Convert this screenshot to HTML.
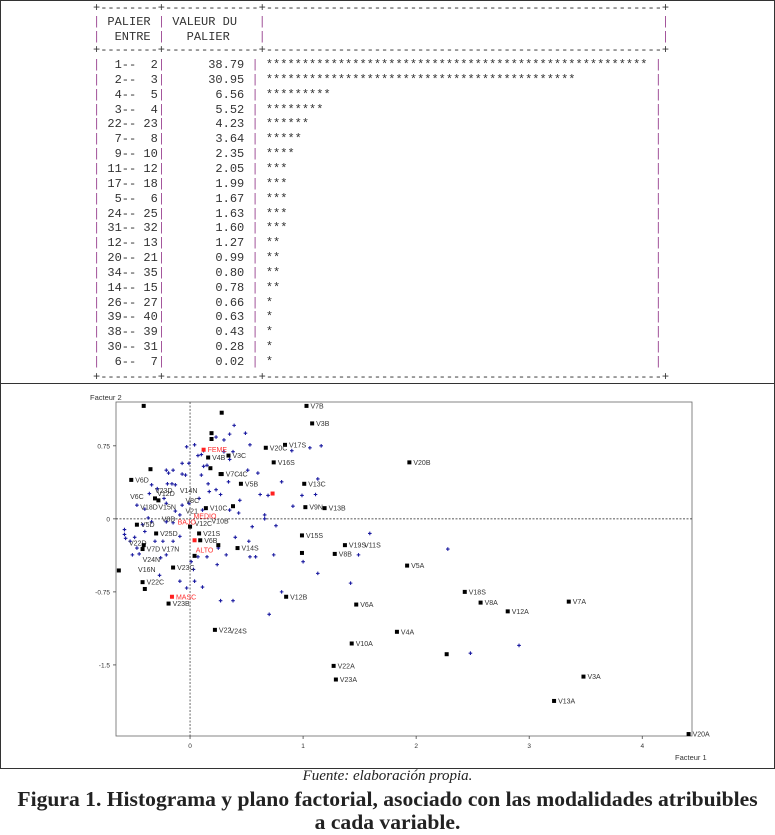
<!DOCTYPE html>
<html><head><meta charset="utf-8">
<style>
html,body{margin:0;padding:0;background:#fff;}
body{width:775px;height:835px;position:relative;overflow:hidden;}
#top{position:absolute;left:0;top:0;width:773px;height:382px;border:1px solid #333;border-bottom:none;}
.ln{position:absolute;left:93px;margin:0;font-family:"Liberation Mono",monospace;font-size:12px;line-height:14px;height:14px;color:#333;white-space:pre;}
.p{color:#a05098;}
#plotbox{position:absolute;left:0;top:383px;width:773px;height:384px;border:1px solid #333;}
svg{position:absolute;left:0;top:0;}
.cap{position:absolute;left:0;width:775px;text-align:center;font-family:"Liberation Serif",serif;color:#222;}
</style></head>
<body>
<div id="top"></div>
<div id="hist"></div>
<div id="plotbox"></div>
<svg id="plot" width="775" height="835"></svg>
<div class="cap" style="top:768px;font-style:italic;font-size:15px;">Fuente: elaboración propia.</div>
<div class="cap" style="top:788px;font-weight:bold;font-size:21.6px;line-height:23px;white-space:nowrap;">Figura 1. Histograma y plano factorial, asociado con las modalidades atribuibles<br>a cada variable.</div>
<script>
const palierA=[1,2,4,3,22,7,9,11,17,5,24,31,12,20,34,14,26,39,38,30,6];
const palierB=[2,3,5,4,23,8,10,12,18,6,25,32,13,21,35,15,27,40,39,31,7];
const valeurs=[38.79,30.95,6.56,5.52,4.23,3.64,2.35,2.05,1.99,1.67,1.63,1.60,1.27,0.99,0.80,0.78,0.66,0.63,0.43,0.28,0.02];
const stars=[53,43,9,8,6,5,4,3,3,3,3,3,2,2,2,2,1,1,1,1,1];

function pad(s,n){s=String(s);while(s.length<n)s=' '+s;return s;}
function rep(c,n){return c.repeat(n);}
const P='<span class="p">|</span>';
let lines=[],ys=[];
const sep='+'+rep('-',8)+'+'+rep('-',13)+'+'+rep('-',55)+'+';
lines.push(sep);ys.push(8);
lines.push(P+' PALIER '+P+' VALEUR DU   '+P+rep(' ',55)+P);ys.push(22);
lines.push(P+'  ENTRE '+P+'   PALIER    '+P+rep(' ',55)+P);ys.push(37);
lines.push(sep);ys.push(50);
for(let i=0;i<valeurs.length;i++){
  let row=P+pad(palierA[i],3)+'--'+pad(palierB[i],3)+P+pad(valeurs[i].toFixed(2),11)+' '+P+' '+rep('*',stars[i]);
  let len=24+stars[i];
  row+=rep(' ',Math.max(0,78-len))+P;
  lines.push(row);ys.push(65+i*14.85);
}
lines.push(sep);ys.push(377);
const hist=document.getElementById('hist');
lines.forEach(function(l,i){
  const d=document.createElement('div');
  d.className='ln';
  d.style.top=(ys[i]-7)+'px';
  d.innerHTML=l;
  
  
  hist.appendChild(d);
});

// factorial plane data
const ptLabel=['V7B','V3B','V17S','V20C','V16S','V20B','V13C','V9N','V13B','V3C','V4B','V7C','V5B','V6D','V10C','V5D','V21S','V6B','V14S','V25D','V7D','V23C','V22C','V23B','V22','V15S','V19S','V8B','V5A','V12B','V6A','V18S','V8A','V12A','V7A','V4A','V10A','V22A','V23A','V3A','V13A','V20A',
'FEME','MASC','','',
'V14N','V6C','V18D','V15N','V8C','V21','V8D','V10B','V12C','MEDIO','BAJO','ALTO','V22D','V17N','V24N','V16N','V24S','V11S','4C','V23D','V12D',
'','','','','','','','','','','','','','','','','',''];
const ptX=[1.03,1.08,0.84,0.67,0.74,1.94,1.01,1.02,1.19,0.34,0.16,0.28,0.45,-0.52,0.14,-0.47,0.08,0.09,0.42,-0.30,-0.42,-0.15,-0.42,-0.19,0.22,0.99,1.37,1.28,1.92,0.85,1.47,2.43,2.57,2.81,3.35,1.83,1.43,1.27,1.29,3.48,3.22,4.41,
0.12,-0.16,0.73,0.04,
-0.09,-0.53,-0.44,-0.28,-0.04,-0.04,-0.25,0.19,0.04,0.03,-0.11,0.05,-0.54,-0.25,-0.42,-0.46,0.35,1.54,0.43,-0.31,-0.29,
-0.41,0.28,0.19,0.19,-0.35,0.27,0.38,-0.63,0.99,2.27,-0.40,0.00,0.25,0.04,0.18,-0.41,-0.31,-0.28];
const ptY=[1.16,0.98,0.76,0.73,0.58,0.58,0.36,0.12,0.11,0.65,0.63,0.46,0.36,0.40,0.11,-0.06,-0.15,-0.22,-0.30,-0.15,-0.31,-0.50,-0.65,-0.87,-1.14,-0.17,-0.27,-0.36,-0.48,-0.80,-0.88,-0.75,-0.86,-0.95,-0.85,-1.16,-1.28,-1.51,-1.65,-1.62,-1.87,-2.21,
0.71,-0.80,0.26,-0.22,
0.29,0.23,0.12,0.12,0.19,0.08,0.00,-0.02,-0.05,0.03,-0.03,-0.32,-0.25,-0.31,-0.42,-0.52,-1.15,-0.27,0.46,0.29,0.26,
1.16,1.09,0.88,0.82,0.51,0.46,0.13,-0.53,-0.35,-1.39,-0.72,-0.08,-0.27,-0.38,0.52,-0.27,0.21,0.19];
const ptKind=[].concat(Array(42).fill('b'),['r','r','r','r'],['n','n','n','n','n','n','n','n','n','rn','rn','rn','n','n','n','n','n','n','n','n','n'],Array(18).fill('b'));

const blueX=[0.39,0.49,0.23,0.35,0.30,0.53,-0.03,0.04,0.12,0.30,0.38,0.10,0.07,0.15,0.12,-0.01,-0.07,0.35,0.51,0.60,0.10,0.34,0.16,0.23,0.17,0.27,0.62,0.69,0.81,1.06,1.16,0.90,1.13,1.11,0.99,0.91,0.66,0.66,0.76,0.55,0.44,0.43,0.35,0.08,0.11,-0.01,-0.07,-0.21,-0.15,-0.19,-0.07,-0.04,-0.34,-0.36,-0.29,-0.20,-0.16,-0.13,-0.23,-0.21,-0.13,-0.09,-0.47,-0.40,-0.37,-0.34,-0.21,-0.15,-0.42,-0.40,-0.58,-0.58,-0.57,-0.53,-0.49,-0.47,-0.51,-0.45,-0.31,-0.24,-0.15,-0.09,-0.26,-0.21,-0.27,-0.09,-0.03,0.04,0.11,0.01,0.03,0.15,0.07,0.24,0.25,0.32,0.40,0.52,0.53,0.58,0.74,1.00,1.13,1.42,1.49,1.59,0.81,0.70,0.38,0.27,2.28,2.48,2.91];
const blueY=[0.96,0.88,0.84,0.87,0.81,0.76,0.74,0.76,0.70,0.69,0.69,0.66,0.65,0.55,0.54,0.57,0.57,0.61,0.50,0.47,0.45,0.38,0.36,0.30,0.28,0.25,0.25,0.24,0.38,0.73,0.75,0.70,0.41,0.25,0.24,0.13,0.04,0.00,-0.07,-0.08,0.19,0.06,0.09,0.21,0.09,0.16,0.14,0.50,0.50,0.47,0.46,0.45,0.35,0.26,0.31,0.36,0.36,0.35,0.21,0.16,0.08,0.04,0.14,0.10,0.01,-0.03,-0.03,-0.04,-0.06,-0.13,-0.11,-0.16,-0.20,-0.23,-0.19,-0.30,-0.37,-0.36,-0.23,-0.23,-0.23,-0.18,-0.40,-0.37,-0.58,-0.64,-0.71,-0.64,-0.70,-0.44,-0.52,-0.39,-0.39,-0.47,-0.30,-0.37,-0.19,-0.23,-0.39,-0.39,-0.37,-0.44,-0.56,-0.66,-0.37,-0.15,-0.75,-0.98,-0.84,-0.84,-0.31,-1.38,-1.30];

const xTicks=[0,1,2,3,4];
const yTicks=[0.75,0,-0.75,-1.5];
const yTickLabels=['0.75','0','-0.75','-1.5'];
const xMin=-0.655,xMax=4.44,yMin=-2.23,yMax=1.2;

const L=116,R=692,T=402,B=736;
function sx(x){return L+(x-xMin)/(xMax-xMin)*(R-L);}
function sy(y){return B-(y-yMin)/(yMax-yMin)*(B-T);}
const NS='http://www.w3.org/2000/svg';
const svg=document.getElementById('plot');
function mk(tag,attrs,parent){const e=document.createElementNS(NS,tag);for(const k in attrs)e.setAttribute(k,attrs[k]);(parent||svg).appendChild(e);return e;}

let fr=mk('rect',{x:L,y:T,width:R-L,height:B-T,fill:'none',stroke:'#666','stroke-width':0.8});


let zx=mk('line',{x1:L,x2:R,y1:sy(0),y2:sy(0),stroke:'#222','stroke-width':0.8,'stroke-dasharray':'2,1.5'});


let zy=mk('line',{x1:sx(0),x2:sx(0),y1:T,y2:B,stroke:'#444','stroke-width':0.8,'stroke-dasharray':'2,1.5'});



xTicks.forEach(function(v){
  mk('line',{x1:sx(v),x2:sx(v),y1:B,y2:B+3,stroke:'#444','stroke-width':0.8});
  let t=mk('text',{x:sx(v),y:B+12,'font-size':6.5,'text-anchor':'middle','font-family':'Liberation Sans, sans-serif',fill:'#333'});
  t.textContent=String(v);
  
  
});
yTicks.forEach(function(v,i){
  mk('line',{x1:L-3,x2:L,y1:sy(v),y2:sy(v),stroke:'#444','stroke-width':0.8});
  let t=mk('text',{x:L-6,y:sy(v)+2.5,'font-size':6.5,'text-anchor':'end','font-family':'Liberation Sans, sans-serif',fill:'#333'});
  t.textContent=yTickLabels[i];
  
  
});
let ay=mk('text',{x:90,y:400,'font-size':7.5,'font-family':'Liberation Sans, sans-serif',fill:'#333'});
ay.textContent='Facteur 2';


let ax=mk('text',{x:675,y:760,'font-size':7.5,'font-family':'Liberation Sans, sans-serif',fill:'#333'});
ax.textContent='Facteur 1';



blueX.forEach(function(x,i){
  const cx=sx(x),cy=sy(blueY[i]);
  let p=mk('path',{d:'M'+(cx-1.8)+' '+cy+'h3.6M'+cx+' '+(cy-1.8)+'v3.6',stroke:'#1a1aa0','stroke-width':1.1});
  
  
});
ptX.forEach(function(x,i){
  const cx=sx(x),cy=sy(ptY[i]),k=ptKind[i];
  if(k==='b'||k==='r'){
    let r=mk('rect',{x:cx-2,y:cy-2,width:4,height:4,fill:k==='r'?'#ff2020':'#000'});
    
    
  }
  if(ptLabel[i]){
    const off=(k==='b'||k==='r')?4:0;
    let t=mk('text',{x:cx+off,y:cy+2.5,'font-size':7,'font-family':'Liberation Sans, sans-serif',fill:(k==='r'||k==='rn')?'#ff3030':'#333'});
    t.textContent=ptLabel[i];
    
    
  }
});
</script>
</body></html>
